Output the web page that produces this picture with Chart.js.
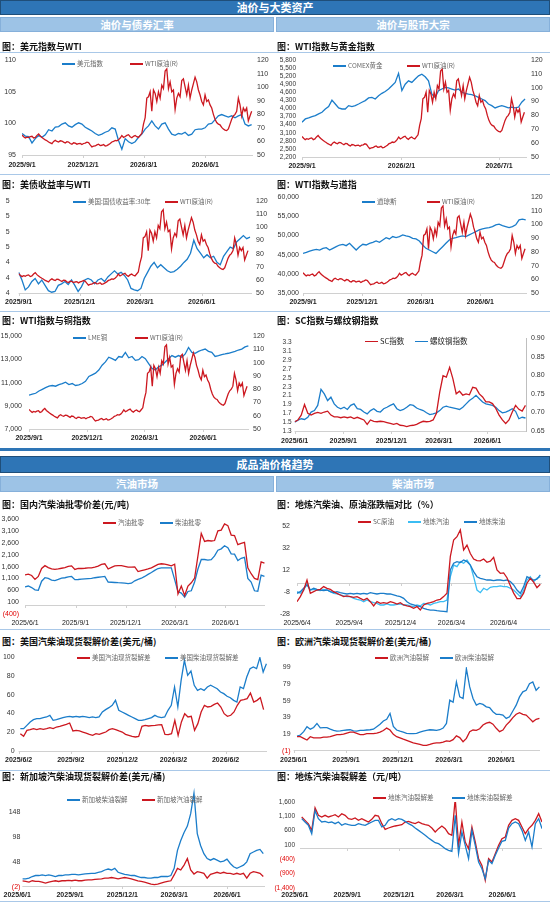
<!DOCTYPE html>
<html><head><meta charset="utf-8">
<script src="https://cdn.jsdelivr.net/npm/chart.js@4.4.1/dist/chart.umd.min.js"></script>
<style>
html,body{margin:0;padding:0;background:#fff;}
body{width:550px;height:904px;position:relative;overflow:hidden;font-family:"Noto Sans CJK SC","Liberation Sans",sans-serif;}
.hdr{position:absolute;background:#2E75B6;color:#fff;font-weight:bold;text-align:center;font-size:11px;box-sizing:border-box;border:1px solid #1F4E79;}
.sub{position:absolute;background:#9DC3E6;color:#fff;font-weight:bold;text-align:center;font-size:10.5px;box-sizing:border-box;border:1px solid #86B0DA;}
.ttl{position:absolute;font-size:9px;font-weight:bold;color:#111;white-space:nowrap;line-height:11px;z-index:3;}
.sep{position:absolute;left:0;width:550px;height:1px;background:#A9C8E8;}
.lg{position:absolute;font-size:6.5px;color:#666;white-space:nowrap;line-height:8px;z-index:3;}
.lg i{display:inline-block;width:13px;height:1.6px;vertical-align:middle;margin-right:2px;margin-top:-1px;}
canvas{position:absolute;z-index:1;}
</style></head>
<body>
<div class="hdr" style="top:0;left:0;width:550px;height:15px;line-height:13px;">油价与大类资产</div>
<div class="sub" style="top:17px;left:0;width:274px;height:15px;line-height:13px;">油价与债券汇率</div>
<div class="sub" style="top:17px;left:276px;width:274px;height:15px;line-height:13px;">油价与股市大宗</div>
<div class="sep" style="top:52px"></div>
<div class="sep" style="top:174px"></div>
<div class="sep" style="top:311px"></div>
<div style="position:absolute;left:0;top:448px;width:550px;height:3px;background:#2E75B6"></div>
<div class="hdr" style="top:456px;left:0;width:550px;height:17px;line-height:15px;">成品油价格趋势</div>
<div class="sub" style="top:476px;left:0;width:274px;height:16px;line-height:14px;">汽油市场</div>
<div class="sub" style="top:476px;left:276px;width:274px;height:16px;line-height:14px;">柴油市场</div>
<div class="sep" style="top:629px"></div>
<div class="sep" style="top:770px"></div>
<div class="sep" style="top:901px"></div>

<div class="ttl" style="left:2px;top:41px">图：美元指数与WTI</div>
<div class="ttl" style="left:277px;top:41px">图：WTI指数与黄金指数</div>
<div class="ttl" style="left:2px;top:179px">图：美债收益率与WTI</div>
<div class="ttl" style="left:277px;top:179px">图：WTI指数与道指</div>
<div class="ttl" style="left:2px;top:315px">图：WTI指数与铜指数</div>
<div class="ttl" style="left:277px;top:315px">图：SC指数与螺纹钢指数</div>
<div class="ttl" style="left:2px;top:499px;font-weight:600">图：国内汽柴油批零价差(元/吨)</div>
<div class="ttl" style="left:277px;top:499px;font-weight:600">图：地炼汽柴油、原油涨跌幅对比（%）</div>
<div class="ttl" style="left:2px;top:636px;font-weight:600">图：美国汽柴油现货裂解价差(美元/桶)</div>
<div class="ttl" style="left:277px;top:636px;font-weight:600">图：欧洲汽柴油现货裂解价差(美元/桶)</div>
<div class="ttl" style="left:2px;top:771px;font-weight:600">图：新加坡汽柴油现货裂解价差(美元/桶)</div>
<div class="ttl" style="left:277px;top:771px;font-weight:600">图：地炼汽柴油裂解差（元/吨）</div>

<script>
// ---------- data ----------
const wtiCrude = [64.8,63.5,62.5,63.2,62.8,63.5,63.8,62.5,63.0,64.5,
 65.5,64.0,63.0,62.0,61.2,60.5,59.6,59.0,58.4,60.0,
 60.8,60.0,59.6,60.5,60.3,59.5,58.8,59.8,59.6,58.5,
 58.0,59.0,58.8,58.0,58.4,58.6,57.7,58.5,58.8,59.5,
 59.1,57.5,56.0,56.5,56.7,57.5,58.0,57.0,57.2,57.8,
 56.7,57.0,57.7,58.5,59.6,60.0,60.8,60.5,61.2,62.5,
 64.4,63.0,63.7,64.5,65.0,63.5,62.7,63.8,64.4,63.5,
 63.0,64.5,66.0,72.8,77.6,92.0,93.0,96.7,82.3,98.0,
 95.5,89.5,96.7,92.0,101.5,99.0,112.0,113.5,99.0,104.0,
 96.7,98.0,83.6,92.0,95.5,93.0,105.0,106.3,100.3,94.3,
 101.5,92.0,98.0,102.7,107.5,104.0,98.0,94.3,89.5,87.0,
 94.3,89.5,90.7,87.0,84.7,80.0,76.4,74.0,72.8,72.3,
 70.4,69.2,68.4,68.0,69.2,72.8,76.4,78.8,80.0,82.3,
 92.0,87.0,78.8,84.7,82.3,84.7,75.2,78.8,82.3];
const dollarIndex = [98.4,98.0,97.9,96.9,97.6,98.1,97.8,98.2,99.0,98.8,
 99.4,99.5,99.9,100.1,99.6,99.4,99.8,100.1,99.9,99.4,
 99.1,98.8,98.4,98.1,98.3,98.6,98.8,99.3,99.1,97.3,
 95.9,97.6,97.1,96.8,97.1,97.8,98.3,99.1,99.6,100.4,
 99.6,99.1,99.9,100.1,99.1,98.3,98.1,98.4,98.3,98.6,
 98.1,98.3,99.0,99.1,99.1,99.3,99.9,100.0,100.6,101.2,
 101.4,101.2,101.0,101.2,100.9,101.2,101.4,99.9,99.6,99.8];
const comexGold = [3490,3612,3650,3700,3735,3800,3860,3980,4070,4310,
 4165,4020,3980,3980,4105,4070,4105,4165,4230,4290,
 4390,4410,4350,4470,4560,4630,4720,4840,4965,5300,
 4660,4900,5025,4965,5090,5210,5270,5175,5025,4530,
 4410,4660,4720,4780,4760,4720,4680,4720,4600,4560,
 4530,4510,4470,4410,4350,4290,4165,4105,4020,4070,
 4105,4070,4020,4045,4020,4045,4230,4350];
const ust30y = [4.27,4.17,4.04,4.08,4.15,4.19,4.12,4.17,4.10,4.03,
 4.01,4.02,4.10,4.12,4.15,4.11,4.17,4.10,4.02,4.08,
 4.17,4.19,4.17,4.12,4.17,4.19,4.15,4.21,4.25,4.29,
 4.25,4.27,4.23,4.17,4.06,4.04,4.03,4.06,4.19,4.27,
 4.35,4.40,4.33,4.37,4.33,4.29,4.27,4.28,4.31,4.35,
 4.40,4.44,4.52,4.69,4.58,4.52,4.46,4.50,4.46,4.48,
 4.40,4.37,4.48,4.54,4.60,4.58,4.67,4.71,4.75,4.71,4.73];
const dowJones = [45320,45580,45930,46190,46360,46190,46630,46800,46190,46630,
 47060,47500,47680,47330,47940,47060,46190,47060,47680,47500,
 47940,48200,48550,48200,48810,49420,49070,49690,49420,49690,
 50120,49860,49690,49250,49070,48550,47500,46630,46190,45750,
 45320,46190,47060,47940,48810,49250,49420,49690,49860,49690,
 50120,50560,51000,51430,51700,51870,52050,52310,52750,52920,
 52570,52310,52050,52310,52750,54060,54230,54060];
const lmeCopper = [9920,10000,10080,10280,10420,10560,10690,10750,10690,10830,
 10920,11030,10830,10920,10750,10800,10920,11110,11530,11670,
 11810,12080,12500,12780,13190,13060,12920,13250,13190,13610,
 13140,13250,12920,12970,13250,13060,12640,12220,12080,12360,
 12500,12780,13060,13330,13190,13330,13190,13470,14030,13610,
 13530,13690,13810,13890,13690,13610,13250,13330,13420,13470,
 13530,13610,13690,13810,13890,14080,14170];
const scIndex = [1.51,1.55,1.66,1.90,1.70,1.66,1.70,1.72,1.70,1.73,
 1.75,1.66,1.62,1.62,1.60,1.62,1.60,1.62,1.58,1.61,
 1.58,1.55,1.45,1.55,1.52,1.51,1.52,1.51,1.49,1.47,
 1.45,1.47,1.43,1.42,1.40,1.42,1.43,1.45,1.49,1.52,
 1.51,1.52,1.55,1.70,2.18,2.55,2.52,2.74,2.48,2.14,
 2.20,2.11,2.14,2.12,2.29,2.27,2.14,2.07,1.96,1.96,
 1.92,1.81,1.66,1.55,1.47,1.55,1.73,1.88,1.79,1.75,1.88];
const rebarIndex = [0.674,0.679,0.683,0.681,0.687,0.701,0.705,0.719,0.762,0.750,
 0.732,0.741,0.723,0.714,0.710,0.714,0.708,0.719,0.723,0.710,
 0.708,0.701,0.696,0.705,0.710,0.703,0.701,0.710,0.714,0.719,
 0.723,0.710,0.705,0.708,0.714,0.721,0.719,0.712,0.708,0.705,
 0.699,0.694,0.696,0.699,0.705,0.714,0.717,0.714,0.712,0.710,
 0.708,0.714,0.723,0.732,0.738,0.746,0.737,0.728,0.723,0.721,
 0.719,0.714,0.705,0.699,0.701,0.705,0.710,0.703,0.683,0.687,0.685];
const gasWholesaleRetail = [1250,1280,1225,1060,1185,1520,1640,1560,1500,1480,
 1500,1530,1560,1610,1630,1480,1520,1520,1530,1545,
 1550,1575,1620,1690,1720,1500,1570,1630,1640,1640,
 1610,1575,1575,1590,1390,1430,1465,1500,1550,1620,
 1690,1720,1700,1670,1630,1700,445,780,380,780,
 915,1115,2055,3000,2660,2700,2680,2700,3110,3140,
 3400,3330,2930,2910,2525,2580,2620,1550,1300,1100,
 1050,1800,1750];
const dieselWholesaleRetail = [740,780,715,620,600,985,1130,1100,1030,1010,
 1060,1115,1130,1165,1185,1050,1055,1070,1080,1090,
 1100,1130,1150,1170,1185,950,940,930,920,915,
 900,880,900,1000,1060,1110,1185,1270,1350,1440,
 1520,1545,1545,1545,1545,1050,540,480,310,550,
 580,950,1500,1900,1900,1870,1895,2050,2290,2350,
 2480,2400,2140,2125,1855,1950,1990,1100,950,580,
 560,1240,1185];
const scCrudeChg = [-16.8,-12.2,-6.2,2.9,-9.2,-7.7,-6.2,-5.6,-3.1,-4.7,
 -5.6,-7.7,-9.2,-10.7,-12.2,-11.6,-12.2,-12.8,-12.2,-13.8,
 -15.3,-13.8,-16.8,-20.7,-16.8,-18.3,-17.7,-18.3,-16.8,-17.7,
 -18.9,-17.7,-19.8,-20.7,-21.3,-22.8,-21.3,-24.4,-19.8,-18.3,
 -17.7,-16.8,-15.3,-14.7,-12.2,-9.2,24.1,39.3,42.3,48.4,
 30.2,34.7,27.0,22.0,20.5,20.3,22.0,19.0,20.0,23.5,
 12.0,9.0,9.3,5.0,-2.0,-9.0,-14.0,-14.0,-9.0,0.0,
 4.4,1.0,-4.0,-1.0];
const localGasChg = [-7.7,-9.2,-6.2,-0.1,-6.2,-5.6,-6.2,-6.8,-5.6,-6.2,
 -7.7,-9.2,-9.8,-10.7,-11.6,-12.2,-12.2,-13.8,-14.7,-15.3,
 -16.8,-15.3,-16.8,-17.7,-18.3,-19.8,-19.8,-18.9,-19.8,-19.8,
 -19.2,-18.9,-19.8,-19.8,-20.7,-21.3,-19.8,-20.7,-18.3,-18.9,
 -19.8,-18.3,-17.7,-16.8,-16.8,-15.3,5.9,16.5,15.0,19.6,
 18.1,21.1,16.5,5.9,-6.2,-8.6,-4.6,-6.2,-3.7,-3.1,
 -3.1,-2.4,-3.1,-3.1,-4.6,-6.2,-9.2,-12.2,-6.2,2.9,
 5.9,1.4,4.4,5.9];
const localDieselChg = [-9.2,-7.7,-4.6,-1.6,-6.2,-4.6,-5.6,-6.2,-6.8,-6.2,
 -7.7,-8.6,-7.7,-8.6,-9.2,-9.8,-9.2,-9.8,-9.2,-9.8,
 -9.2,-9.8,-8.6,-9.2,-9.8,-9.2,-9.2,-9.8,-9.8,-10.7,
 -11.6,-12.2,-13.8,-16.8,-18.9,-19.8,-20.7,-21.3,-22.8,-23.8,
 -24.4,-24.4,-25.0,-25.3,-25.6,-25.9,12.1,18.1,19.6,18.7,
 21.1,19.6,16.5,10.5,5.9,4.4,3.6,2.9,2.9,2.3,
 2.9,2.9,2.3,2.9,1.4,-1.6,-6.2,-9.2,-3.1,5.9,
 4.4,2.9,3.6,7.5];
const usGasCrack = [18.4,15.6,22.0,22.7,23.8,22.7,23.8,23.0,23.8,24.8,
 23.8,25.5,26.2,27.3,28.4,29.8,21.3,22.0,21.3,20.2,
 19.1,17.7,16.7,18.4,17.7,19.1,20.2,22.7,23.8,22.7,
 21.3,20.2,17.7,16.7,15.6,14.9,15.6,26.2,27.3,26.6,
 27.0,27.3,27.7,28.0,17.7,17.4,18.4,32.6,16.7,30.9,
 39.7,36.2,36.9,22.0,29.1,41.5,48.6,46.8,47.5,49.6,
 51.1,46.8,39.7,36.9,38.0,41.5,48.6,53.9,54.6,55.7,
 61.7,52.1,53.9,56.7,44.0];
const usDieselCrack = [23.8,23.8,27.3,30.9,33.3,34.4,34.4,35.5,36.2,37.9,
 32.6,33.3,34.4,35.5,36.2,36.9,36.2,36.9,36.2,36.9,
 36.2,35.5,36.2,35.5,36.2,41.5,44.0,46.1,48.6,53.9,
 43.3,41.5,39.7,37.9,36.2,34.4,32.6,32.6,33.3,34.4,
 35.5,37.9,36.2,35.5,36.2,43.3,48.6,68.1,46.8,75.2,
 96.5,80.5,85.0,69.9,64.5,66.3,64.5,68.1,69.9,68.1,
 66.3,62.8,61.0,58.2,56.7,53.9,52.1,68.1,66.3,78.7,
 87.6,89.4,87.6,99.3,84.0,92.9];
const euGasCrack = [16.0,16.0,14.1,12.1,16.0,14.7,14.7,14.7,15.6,15.6,
 16.0,17.4,18.6,18.6,19.0,20.4,21.4,21.4,20.0,18.6,
 18.6,19.6,19.6,19.6,20.4,21.4,23.4,26.3,24.0,18.8,
 16.0,14.7,13.1,11.7,10.1,8.6,7.8,6.8,5.6,5.6,
 6.8,8.2,8.6,8.6,9.6,11.1,10.5,12.5,17.0,15.0,
 10.0,14.0,22.0,24.0,23.6,25.5,29.9,32.2,33.2,30.9,
 26.0,22.0,24.0,29.9,33.8,38.7,42.7,44.7,42.7,41.7,
 37.8,33.8,36.8,37.8];
const euDieselCrack = [16.8,18.0,22.0,27.9,25.0,27.0,31.8,26.5,26.9,26.9,
 25.0,23.6,22.6,23.0,23.6,24.0,24.3,23.0,22.6,23.6,
 23.6,24.0,24.3,25.0,27.9,30.9,34.8,36.8,43.7,28.2,
 24.0,22.6,21.4,20.0,19.6,19.6,20.0,21.4,22.6,23.6,
 24.3,24.0,23.6,24.3,26.3,31.8,59.5,57.0,81.2,63.4,
 61.5,97.0,75.3,61.5,53.6,55.6,54.5,51.6,50.6,45.7,
 42.7,42.7,41.7,37.8,39.8,46.6,53.6,63.4,69.4,71.3,
 79.2,81.2,71.3,75.3];
const sgDieselCrack = [14.4,14.4,15.7,19.0,21.0,21.0,22.2,21.0,22.2,21.0,
 19.0,21.0,21.0,22.2,22.2,23.5,23.5,22.2,23.5,24.2,
 24.9,25.5,25.5,27.5,28.8,32.1,34.0,32.1,35.3,27.5,
 25.5,23.5,22.2,21.0,21.0,19.0,17.0,17.0,15.7,15.7,
 17.0,17.0,19.0,19.0,19.0,21.0,35.3,71.4,91.0,107.4,
 120.0,145.0,186.0,105.0,81.2,64.8,55.0,51.7,55.0,51.7,
 48.4,49.8,53.7,45.2,38.6,35.3,38.6,41.9,48.4,64.8,
 68.1,71.4,73.3,64.8];
const sgGasCrack = [10.5,9.1,7.8,10.5,9.1,9.1,7.8,5.9,7.8,9.1,
 10.5,9.1,10.5,10.5,11.1,10.5,11.8,10.5,10.5,11.8,
 12.4,12.4,13.1,13.7,14.4,15.7,15.7,17.0,15.7,14.4,
 15.7,17.0,15.7,14.4,12.4,10.5,9.1,7.8,5.9,3.9,
 2.6,3.9,5.9,7.8,9.1,10.5,22.2,35.3,32.1,41.9,
 55.0,32.1,24.0,28.8,27.5,25.5,15.7,23.5,25.5,27.5,
 25.5,27.5,25.5,25.5,23.5,25.5,23.5,25.5,15.7,25.5,
 28.8,27.5,25.5,19.0];
const localGasCrack = [1077,960,840,611,1400,1135,1077,1135,1077,1112,
 1158,1077,1193,1135,1019,995,1042,960,1019,960,
 902,995,1135,1112,844,646,693,728,763,786,
 809,902,925,879,844,902,844,809,786,693,
 553,670,763,670,495,437,1716,88,902,205,
 -28,728,205,-377,-610,-1133,-377,-493,-203,88,
 321,379,786,960,1019,960,728,495,670,786,
 960,1193,902];
const localDieselCrack = [1019,900,790,495,1300,1019,902,925,879,902,
 844,902,786,844,809,786,786,844,809,786,
 844,902,960,960,728,786,960,1019,960,1019,
 995,925,844,786,693,611,530,437,344,262,
 181,146,65,-28,-86,-121,1135,-203,553,88,
 -377,611,88,-493,-726,-1075,-435,-551,-261,-5,
 228,262,693,844,902,844,611,262,553,30,
 844,1019,670];

// tick labels
const ticksSep = ["2025/9/1","2025/12/1","2026/3/1","2026/6/1"];
const ticksGold = ["2025/9/1","2026/2/1","2026/7/1"];
const ticksJun1 = ["2025/6/1","2025/9/1","2025/12/1","2026/3/1","2026/6/1"];
const ticksJun4 = ["2025/6/4","2025/9/4","2025/12/4","2026/3/4","2026/6/4"];
const ticksJun2 = ["2025/6/2","2025/9/2","2025/12/2","2026/3/2","2026/6/2"];
const wtiTicks = [50,60,70,80,90,100,110,120];
const dollarTicks = [95,100,105,110];
const goldTicks = [2200,2500,2800,3100,3400,3700,4000,4300,4600,4900,5200,5500,5800];
const ustTicks = [4.0,4.2,4.4,4.6,4.8,5.0,5.2];
const dowTicks = [35000,40000,45000,50000,55000,60000];
const lmeTicks = [7000,9000,11000,13000,15000];
const scTicks = [1.3,1.5,1.7,1.9,2.1,2.3,2.5,2.7,2.9,3.1,3.3];
const rebarTicks = [0.65,0.70,0.75,0.80,0.85,0.90];
const wrTicks = [-400,100,600,1100,1600,2100,2600,3100,3600];
const chgTicks = [-28,-8,12,32,52];
const usTicks = [0,20,40,60,80,100];
const euTicks = [-1,19,39,59,79,99];
const sgTicks = [-2,48,98,148];
const lcTicks = [-1400,-900,-400,100,600,1100,1600];

// ---------- helpers ----------
const RED='#CC1820', BLUE='#1B7DCA', LBLUE='#3BBDF3';
const FF='"Liberation Sans", Arial, "Noto Sans CJK SC", sans-serif';
function dayOf(s){const p=s.split('/').map(Number);return Date.UTC(p[0],p[1]-1,p[2])/86400000;}
function pts(vals, span, x0){
  const a=dayOf(span[0])-dayOf(x0), b=dayOf(span[1])-dayOf(x0), n=vals.length;
  return vals.map((v,i)=>({x:a+(b-a)*i/(n-1), y:v}));
}
const fmtK = v => { const s=Math.abs(v).toLocaleString('en-US'); return v<0?'('+s+')':s; };
const fmtPlain = v => String(v);

const axisLine = { id:'axisLine', beforeDatasetsDraw(ch){
  const y=ch.scales.y, xs=ch.scales.x, a=ch.chartArea, c=ch.ctx;
  const v = y.min<0 ? 0 : y.min; const py=Math.round(y.getPixelForValue(v))+0.5;
  c.save(); c.strokeStyle='#D0D0D0'; c.lineWidth=1; c.beginPath();
  c.moveTo(a.left,py); c.lineTo(a.right,py);
  xs.ticks.forEach(t=>{const px=Math.round(xs.getPixelForValue(t.value))+0.5; if(px>=a.left-1&&px<=a.right+1){c.moveTo(px,py);c.lineTo(px,py+2.5);}});
  c.stroke(); c.restore();
}};

function mk(o){
  const [L,T,W,H]=o.box, [l,t,r,b]=o.plot;
  const cv=document.createElement('canvas'); cv.width=W; cv.height=H;
  Object.assign(cv.style,{left:L+'px',top:T+'px',width:W+'px',height:H+'px'});
  document.body.appendChild(cv);
  const x0=o.x.start, xmin=o.x.min||0, xmax=dayOf(o.x.end)-dayOf(x0);
  const tv=o.x.ticks.map(s=>dayOf(s)-dayOf(x0)); const tl={}; tv.forEach((v,i)=>tl[v]=o.x.ticks[i]);
  const yAxis=(a,pos,w)=>({type:'linear',position:pos,min:a.min,max:a.max,
    afterFit:s=>{s.width=w;},
    afterBuildTicks:s=>{s.ticks=a.ticks.map(v=>({value:v}));},
    ticks:{autoSkip:false,callback:v=>a.fmt(v),color:c=>(a.redNeg&&c.tick&&c.tick.value<0)?'#E00000':'#333',font:{family:FF,size:a.fs||7},padding:a.pad==null?5:a.pad},
    grid:{display:false,drawTicks:false,tickLength:0},border:{display:!!a.border,color:'#BFBFBF'}});
  const scales={
    x:{type:'linear',min:xmin,max:xmax,afterFit:s=>{s.height=T+H-b;},
      afterBuildTicks:s=>{s.ticks=tv.map(v=>({value:v}));},
      ticks:{callback:v=>tl[v]||'',autoSkip:false,maxRotation:0,minRotation:0,color:'#222',
        font:{family:FF,size:7,weight:o.x.bold?'bold':'normal'},padding:o.x.pad==null?5:o.x.pad},
      grid:{display:false,drawTicks:false,tickLength:0},border:{display:false}},
    y:yAxis(o.y,'left',l-L)};
  if(o.y2) scales.y2=yAxis(o.y2,'right',L+W-r);
  const ds=o.series.map(s=>({data:pts(s.data,s.span,x0),borderColor:s.color,borderWidth:1.3,pointRadius:0,tension:0,fill:false,yAxisID:s.axis||'y'}));
  new Chart(cv,{type:'line',data:{datasets:ds},options:{responsive:false,animation:false,events:[],
    layout:{padding:{top:t-T,right:o.y2?0:L+W-r,left:0,bottom:0}},
    plugins:{legend:{display:false},tooltip:{enabled:false}},scales},plugins:[axisLine]});
}
function lg(x,y,color,text,style){
  const d=document.createElement('div'); d.className='lg';
  d.style.left=x+'px'; d.style.top=(y-4)+'px'; if(style) d.style.cssText+=style;
  d.innerHTML='<i style="background:'+color+'"></i>'+text; document.body.appendChild(d);
}
const wtiAxis={min:50,max:120,ticks:wtiTicks,fmt:fmtPlain,pad:4};

// 1 美元指数与WTI
mk({box:[0,50,275,122],plot:[22,58,253,155],
  x:{start:"2025/9/1",end:"2026/8/11",ticks:ticksSep,bold:true,pad:6},
  y:{min:95,max:110,ticks:dollarTicks,fmt:fmtPlain,pad:6}, y2:wtiAxis,
  series:[{data:wtiCrude,span:["2025/9/1","2026/8/9"],color:RED,axis:'y2'},
          {data:dollarIndex,span:["2025/9/1","2026/8/9"],color:BLUE}]});
lg(62,63,BLUE,'美元指数'); lg(130,63,RED,'WTI原油(R)');

// 2 WTI与黄金
mk({box:[275,50,275,122],plot:[302,59,527,157],
  x:{start:"2025/9/1",end:"2026/8/13",ticks:ticksGold,bold:true,pad:5},
  y:{min:2200,max:5800,ticks:goldTicks,fmt:fmtK,pad:6,fs:6.5}, y2:wtiAxis,
  series:[{data:wtiCrude,span:["2025/9/1","2026/8/9"],color:RED,axis:'y2'},
          {data:comexGold,span:["2025/9/1","2026/8/10"],color:BLUE}]});
lg(333,65,BLUE,'COMEX黄金'); lg(407,65,RED,'WTI原油(R)');

// 3 美债收益率与WTI
mk({box:[0,188,275,120],plot:[17,197,252,293],
  x:{start:"2025/9/1",end:"2026/8/15",ticks:ticksSep,bold:true,pad:5},
  y:{min:4.0,max:5.2,ticks:ustTicks,fmt:v=>String(Math.round(v)),pad:9}, y2:wtiAxis,
  series:[{data:wtiCrude,span:["2025/9/1","2026/8/9"],color:RED,axis:'y2'},
          {data:ust30y,span:["2025/9/1","2026/8/12"],color:BLUE}]});
lg(73,201,BLUE,'美国:国债收益率:30年'); lg(165,201,RED,'WTI原油(R)');

// 4 WTI与道指
mk({box:[275,188,275,120],plot:[303,197,527,293],
  x:{start:"2025/9/1",end:"2026/8/12",ticks:ticksSep,bold:true,pad:5},
  y:{min:35000,max:60000,ticks:dowTicks,fmt:fmtK,pad:4}, y2:wtiAxis,
  series:[{data:wtiCrude,span:["2025/9/1","2026/8/9"],color:RED,axis:'y2'},
          {data:dowJones,span:["2025/9/1","2026/8/10"],color:BLUE}]});
lg(362,201,BLUE,'道琼斯'); lg(427,201,RED,'WTI原油(R)');

// 5 WTI与铜
mk({box:[0,325,275,122],plot:[29,333,249,429],
  x:{start:"2025/9/1",end:"2026/8/12",ticks:ticksSep,bold:true,pad:5},
  y:{min:7000,max:15000,ticks:lmeTicks,fmt:fmtK,pad:7}, y2:wtiAxis,
  series:[{data:wtiCrude,span:["2025/9/1","2026/8/9"],color:RED,axis:'y2'},
          {data:lmeCopper,span:["2025/9/1","2026/8/11"],color:BLUE}]});
lg(73,337,BLUE,'LME铜'); lg(135,337,RED,'WTI原油(R)');

// 6 SC与螺纹钢
mk({box:[275,329,275,118],plot:[293,337,526,431],
  x:{start:"2025/6/1",end:"2026/8/13",ticks:ticksJun1,bold:true,pad:6},
  y:{min:1.3,max:3.4,ticks:scTicks,fmt:v=>v.toFixed(1),pad:3,fs:6.5},
  y2:{min:0.65,max:0.90,ticks:rebarTicks,fmt:v=>v.toFixed(2),pad:5,border:true},
  series:[{data:scIndex,span:["2025/6/1","2026/8/12"],color:RED},
          {data:rebarIndex,span:["2025/6/1","2026/8/12"],color:BLUE,axis:'y2'}]});
lg(365,341,RED,'SC指数','font-size:7.5px;color:#222;'); lg(415,341,BLUE,'螺纹钢指数','font-size:7.5px;color:#222;');

// 7 国内批零价差
mk({box:[0,509,275,120],plot:[25,515,265,614],
  x:{start:"2025/6/1",end:"2026/8/12",ticks:ticksJun1,bold:false,pad:5},
  y:{min:-400,max:3600,ticks:wrTicks,fmt:fmtK,pad:6,redNeg:true},
  series:[{data:gasWholesaleRetail,span:["2025/6/1","2026/8/11"],color:RED},
          {data:dieselWholesaleRetail,span:["2025/6/1","2026/8/11"],color:BLUE}]});
lg(103,522,RED,'汽油批零'); lg(160,522,BLUE,'柴油批零');

// 8 地炼涨跌幅
mk({box:[275,509,275,120],plot:[297,526,542,614],
  x:{start:"2025/6/4",end:"2026/8/11",ticks:ticksJun4,bold:false,pad:5},
  y:{min:-28,max:52,ticks:chgTicks,fmt:fmtPlain,pad:7},
  series:[{data:scCrudeChg,span:["2025/6/4","2026/8/8"],color:RED},
          {data:localDieselChg,span:["2025/6/4","2026/8/8"],color:BLUE},
          {data:localGasChg,span:["2025/6/4","2026/8/8"],color:LBLUE}]});
lg(358,521,RED,'SC原油'); lg(408,521,LBLUE,'地炼汽油'); lg(464,521,BLUE,'地炼柴油');

// 9 美国裂解
mk({box:[0,648,275,120],plot:[15,657,267,751],
  x:{start:"2025/6/2",end:"2026/8/14",ticks:ticksJun2,bold:true,pad:5},
  y:{min:0,max:100,ticks:usTicks,fmt:fmtPlain,pad:4},
  series:[{data:usGasCrack,span:["2025/6/5","2026/8/8"],color:RED},
          {data:usDieselCrack,span:["2025/6/5","2026/8/13"],color:BLUE}]});
lg(77,657,RED,'美国汽油现货裂解差'); lg(165,657,BLUE,'美国柴油现货裂解差');

// 10 欧洲裂解
mk({box:[275,648,275,120],plot:[293,667,540,751],
  x:{start:"2025/6/1",end:"2026/8/8",ticks:ticksJun1,bold:true,pad:5},
  y:{min:-1,max:99,ticks:euTicks,fmt:fmtK,pad:3,redNeg:true},
  series:[{data:euGasCrack,span:["2025/6/7","2026/8/7"],color:RED},
          {data:euDieselCrack,span:["2025/6/7","2026/8/7"],color:BLUE}]});
lg(375,657,RED,'欧洲汽油裂解'); lg(440,657,BLUE,'欧洲柴油裂解');

// 11 新加坡裂解
mk({box:[0,781,275,120],plot:[20,786,265,887],
  x:{start:"2025/6/1",end:"2026/8/6",min:9,ticks:ticksJun1,bold:true,pad:4},
  y:{min:-2,max:198,ticks:sgTicks,fmt:fmtK,pad:2,redNeg:true},
  series:[{data:sgDieselCrack,span:["2025/6/10","2026/8/3"],color:BLUE},
          {data:sgGasCrack,span:["2025/6/10","2026/8/3"],color:RED}]});
lg(67,799,BLUE,'新加坡柴油裂解'); lg(142,799,RED,'新加坡汽油裂解');

// 12 地炼裂解差
mk({box:[271,781,279,120],plot:[300,802,542,888],
  x:{start:"2025/6/1",end:"2026/8/10",min:9,ticks:ticksJun1,bold:true,pad:3},
  y:{min:-1400,max:1600,ticks:lcTicks,fmt:fmtK,pad:5,redNeg:true,fs:6.5},
  series:[{data:localDieselCrack,span:["2025/6/13","2026/8/10"],color:BLUE},
          {data:localGasCrack,span:["2025/6/13","2026/8/10"],color:RED}]});
lg(373,797,RED,'地炼汽油裂解差'); lg(452,797,BLUE,'地炼柴油裂解差');
</script>
</body></html>
